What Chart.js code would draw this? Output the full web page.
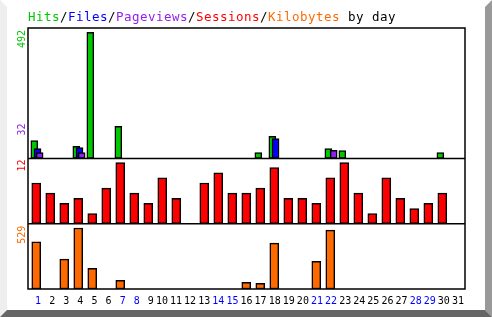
<!DOCTYPE html>
<html>
<head>
<meta charset="utf-8">
<script src="https://cdn.jsdelivr.net/npm/chart.js@4/dist/chart.umd.min.js"></script>
<style>
  html, body { margin: 0; padding: 0; background: #fff; }
  canvas { display: block; }
</style>
</head>
<body>
<canvas id="grafico" width="492" height="317"></canvas>
<script>
// datos por dia
const dias = [1, 2, 3, 4, 5, 6, 7, 8, 9, 10, 11, 12, 13, 14, 15, 16, 17, 18, 19, 20, 21, 22, 23, 24, 25, 26, 27, 28, 29, 30, 31];
const finDeSemana = [1, 7, 8, 14, 15, 21, 22, 28, 29];
const hits = [70, 0, 0, 47, 492, 0, 125, 0, 0, 0, 0, 0, 0, 0, 0, 0, 23, 86, 0, 0, 0, 39, 31, 0, 0, 0, 0, 0, 0, 23, 0];
const archivos = [39, 0, 0, 43, 0, 0, 0, 0, 0, 0, 0, 0, 0, 0, 0, 0, 0, 78, 0, 0, 0, 0, 0, 0, 0, 0, 0, 0, 0, 0, 0];
const paginas = [23, 0, 0, 23, 0, 0, 0, 0, 0, 0, 0, 0, 0, 0, 0, 0, 0, 0, 0, 0, 0, 32, 0, 0, 0, 0, 0, 0, 0, 0, 0];
const sesiones = [8, 6, 4, 5, 2, 7, 12, 6, 4, 9, 5, 0, 8, 10, 6, 6, 7, 11, 5, 5, 4, 9, 12, 6, 2, 9, 5, 3, 4, 6, 0];
const kbytes = [410, 0, 259, 529, 180, 0, 76, 0, 0, 0, 0, 0, 0, 0, 0, 58, 50, 398, 0, 0, 241, 511, 0, 0, 0, 0, 0, 0, 0, 0, 0];

const colores = {
    hits: "#00c800",
    archivos: "#0000ff",
    paginas: "#9020f0",
    sesiones: "#ff0000",
    kbytes: "#ff6a00"
};

const tituloPartes = [
    ["Hits", colores.hits], ["/", "#000"],
    ["Files", colores.archivos], ["/", "#000"],
    ["Pageviews", colores.paginas], ["/", "#000"],
    ["Sessions", colores.sesiones], ["/", "#000"],
    ["Kilobytes", colores.kbytes], [" by day", "#000"]
];

const puntos = (valores, desplazamiento) => valores.map((v, i) => ({ x: dias[i] + desplazamiento, y: v }));

const barra = (label, valores, color, eje, desplazamiento, ancho, orden) => ({
    label: label,
    data: puntos(valores, desplazamiento),
    backgroundColor: color,
    borderColor: "#000",
    borderWidth: 1.5,
    borderSkipped: false,
    barThickness: ancho,
    grouped: false,
    xAxisID: "xb",
    yAxisID: eje,
    order: orden
});

const marco = {
    id: "marco",
    beforeDraw(chart) {
        const c = chart.ctx;
        const w = chart.width, h = chart.height;
        c.save();
        c.fillStyle = "#fff";
        c.fillRect(0, 0, w, h);
        c.fillStyle = "#eeeeee";
        c.beginPath();
        c.moveTo(0, 0); c.lineTo(7, 7); c.lineTo(7, h - 7); c.lineTo(0, h);
        c.fill();
        c.fillStyle = "#999999";
        c.beginPath();
        c.moveTo(w - 7, 7); c.lineTo(w, 0); c.lineTo(w, h); c.lineTo(w - 7, h - 7);
        c.fill();
        c.fillStyle = "#666666";
        c.beginPath();
        c.moveTo(0, h); c.lineTo(7, h - 7); c.lineTo(w - 7, h - 7); c.lineTo(w, h);
        c.fill();

        // titulo multicolor
        c.font = "12.5px 'DejaVu Sans Mono'";
        c.textBaseline = "alphabetic";
        c.textAlign = "left";
        let i = 0;
        tituloPartes.forEach(([texto, color]) => {
            c.fillStyle = color;
            for (const ch of texto) {
                c.fillText(ch, chart.chartArea.left + i * 8, 21);
                i++;
            }
        });
        c.restore();
    },
    afterDatasetsDraw(chart) {
        const c = chart.ctx;
        const a = chart.chartArea;
        const s = chart.scales;
        c.save();
        c.strokeStyle = "#000";
        c.lineWidth = 1.5;
        c.strokeRect(a.left, a.top, a.right - a.left, a.bottom - a.top);
        c.beginPath();
        c.moveTo(a.left, s.yh.bottom); c.lineTo(a.right, s.yh.bottom);
        c.moveTo(a.left, s.ys.bottom); c.lineTo(a.right, s.ys.bottom);
        c.stroke();

        // maximos en vertical
        c.font = "10px 'DejaVu Sans Mono'";
        c.textBaseline = "middle";
        const vertical = (texto, color, y, alinear) => {
            c.save();
            c.translate(a.left - 6, y);
            c.rotate(-Math.PI / 2);
            c.textAlign = alinear;
            c.fillStyle = color;
            c.fillText(texto, 0, 0);
            c.restore();
        };
        vertical(String(Math.max(...hits)), colores.hits, s.yh.top + 2, "right");
        vertical(String(Math.max(...paginas)), colores.paginas, s.yh.bottom - 23, "left");
        vertical(String(Math.max(...sesiones)), colores.sesiones, s.ys.top + 1, "right");
        vertical(String(Math.max(...kbytes)), colores.kbytes, s.yk.top + 2, "right");
        c.restore();
    }
};

new Chart(document.getElementById("grafico"), {
    type: "bar",
    data: {
        labels: dias.map(String),
        datasets: [
            barra("Hits", hits, colores.hits, "yh", -0.14, 7, 3),
            barra("Files", archivos, colores.archivos, "yh", 0.09, 7, 2),
            barra("Pageviews", paginas, colores.paginas, "yh", 0.24, 7, 1),
            barra("Sessions", sesiones, colores.sesiones, "ys", 0, 9, 1),
            barra("Kilobytes", kbytes, colores.kbytes, "yk", 0, 9, 1)
        ]
    },
    options: {
        responsive: false,
        animation: false,
        devicePixelRatio: 1,
        layout: { padding: { left: 28, right: 27, top: 28, bottom: 4 } },
        plugins: {
            legend: { display: false },
            tooltip: { enabled: false }
        },
        scales: {
            x: {
                type: "category",
                offset: true,
                grid: { display: false, drawTicks: false },
                border: { display: false },
                ticks: {
                    autoSkip: false,
                    minRotation: 0,
                    maxRotation: 0,
                    padding: 6,
                    font: { family: "'DejaVu Sans Mono'", size: 10 },
                    color: (ctx) => finDeSemana.includes(dias[ctx.index]) ? "#0000ff" : "#000",
                    callback: function (value, index) {
                        const d = dias[index];
                        return d < 10 ? " " + d : String(d);
                    }
                }
            },
            xb: { type: "linear", display: false, offset: false, min: 0.41, max: 31.62 },
            yk: { type: "linear", display: false, min: 0, max: 566, stack: "paneles", stackWeight: 1 },
            ys: { type: "linear", display: false, min: 0, max: 12.8, stack: "paneles", stackWeight: 1 },
            yh: { type: "linear", display: false, min: 0, max: 509, stack: "paneles", stackWeight: 2 }
        }
    },
    plugins: [marco]
});
</script>
</body>
</html>
